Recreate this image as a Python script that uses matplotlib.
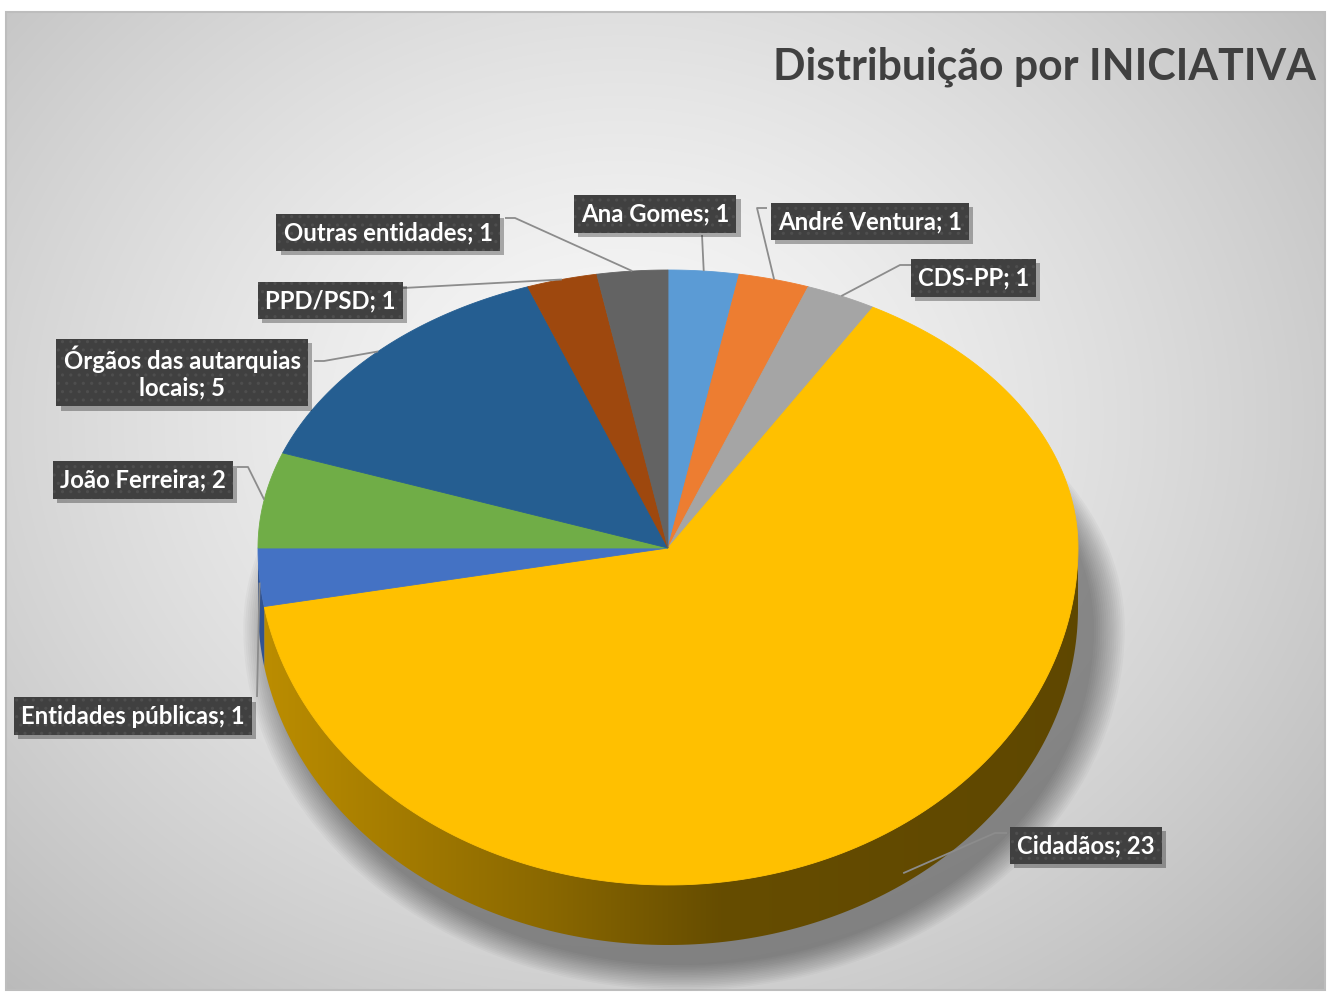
import numpy as np
import matplotlib.pyplot as plt
from matplotlib.patches import Polygon, Rectangle
import matplotlib.patheffects as pe

# === DATA ===
labels = ["Ana Gomes", "André Ventura", "CDS-PP", "Cidadãos", "Entidades públicas",
          "João Ferreira", "Órgãos das autarquias\nlocais", "PPD/PSD", "Outras entidades"]
values = [1, 1, 1, 23, 1, 2, 5, 1, 1]
colors = ["#5B9BD5", "#ED7D31", "#A5A5A5", "#FFC000", "#4472C4",
          "#70AD47", "#255E91", "#9E480E", "#636363"]
title = "Distribuição por INICIATIVA"

# === LAYOUT (pixel coordinates, y pointing down) ===
W, H = 1331, 994
CX, CY = 668, 548          # pie apex
A, BT, BB = 410, 278, 337  # horizontal radius, back / front vertical radius
DEPTH = 60
label_pos = [(655, 214), (870, 221.5), (973.5, 278), (1086, 845.5), (133, 716),
             (143, 480), (182, 372.5), (330.5, 300.5), (388, 232.5)]
leader_start = [(702, 235), (767, 208), (912, 265), (1007, 833), (257, 697),
                (237, 467), (314, 361), (403, 288), (505, 218)]
elbow = [0, -10, -12, -12, 0, 11, 10, 0, 10]

plt.rcParams["font.family"] = ["Lato", "DejaVu Sans"]
plt.rcParams["hatch.linewidth"] = 1.1

fig = plt.figure(figsize=(W / 100, H / 100), dpi=100)
ax = fig.add_axes([0, 0, 1, 1])
ax.set_axis_off()


def pt(theta):
    th = np.radians(theta)
    s = np.sin(th)
    b = np.where(s > 0, BT, BB)
    return CX + A * np.cos(th), CY - b * s


# background gradient inside frame
yy, xx = np.mgrid[12:990, 6:1325]
d = np.hypot((xx - 620) / 900, (yy - 420) / 760)
g = np.clip(0.975 - 0.24 * d ** 1.4, 0, 1)
ax.imshow(np.dstack([g, g, g]), extent=(6, 1325, 990, 12), origin="upper",
          aspect="auto", zorder=0)
ax.add_patch(Rectangle((6, 12), 1319, 978, fc="none", ec="#BDBDBD", lw=1.5, zorder=1))

total = sum(values)
bounds = 90 - 360 * np.concatenate([[0], np.cumsum(values)]) / total

# soft shadow under the pie
t = np.linspace(0, 360, 300)
for k in range(16):
    sx, sy = pt(t)
    sc = 1.0 + 0.005 * k
    px = CX + 16 + (sx - CX) * sc
    py = CY + DEPTH + 20 + (sy - CY) * sc
    ax.fill(px, py, color="black", alpha=0.028, lw=0, zorder=1.5)

# side walls (front half only)
for i, v in enumerate(values):
    t0, t1 = bounds[i], bounds[i + 1]
    lo, hi = max(t1, -180), min(t0, 0)
    if hi <= lo:
        continue
    ang = np.linspace(lo, hi, 200)
    x, y = pt(ang)
    px = np.concatenate([x, x[::-1]])
    py = np.concatenate([y, (y + DEPTH)[::-1]])
    poly = Polygon(np.column_stack([px, py]), closed=True, fc="none", lw=0, zorder=2)
    ax.add_patch(poly)
    base = np.array(plt.matplotlib.colors.to_rgb(colors[i]))
    gx = np.linspace(px.min(), px.max(), 300)
    f = np.interp(gx, [255, 550, 720, 1100], [0.74, 0.54, 0.40, 0.37])
    img = (base[None, :] * f[:, None])[None, :, :]
    im = ax.imshow(img, extent=(px.min(), px.max(), py.max(), py.min()),
                   origin="upper", aspect="auto", zorder=2)
    im.set_clip_path(poly)

# top face
for i, v in enumerate(values):
    ang = np.linspace(bounds[i], bounds[i + 1], 200)
    x, y = pt(ang)
    ax.fill(np.concatenate([[CX], x]), np.concatenate([[CY], y]),
            color=colors[i], ec=colors[i], lw=0.6, zorder=3)

# leader lines and labels
for i, v in enumerate(values):
    mid = (bounds[i] + bounds[i + 1]) / 2
    mx, my = pt(mid)
    my = my + DEPTH * max(0.0, -np.sin(np.radians(mid)))
    sx, sy = leader_start[i]
    xs, ys = [sx], [sy]
    if elbow[i]:
        xs.append(sx + elbow[i])
        ys.append(sy)
    xs.append(mx)
    ys.append(my)
    ax.plot(xs, ys, color="#8C8C8C", lw=1.3, zorder=4, solid_capstyle="butt")

    lx, ly = label_pos[i]
    s = f"{labels[i]}; {v}"
    kw = dict(ha="center", va="center", fontsize=17.2, fontweight="bold",
              linespacing=1.15)
    # plain box only for the drop shadow
    sh = ax.text(lx, ly, s, color="none", zorder=5, **kw,
                 bbox=dict(boxstyle="square,pad=0.3", fc="#404040", lw=0))
    sh.get_bbox_patch().set_path_effects(
        [pe.SimplePatchShadow(offset=(3, -3), shadow_rgbFace="black", alpha=0.3),
         pe.Normal()])
    # textured box with the label
    ax.text(lx, ly, s, color="white", zorder=6, **kw,
            bbox=dict(boxstyle="square,pad=0.3", fc="#404040", ec="#4E4E4E",
                      lw=0, hatch=".."))

ax.text(1316, 67, title, ha="right", va="center", fontsize=30.8,
        fontweight="bold", color="#404040", zorder=6)

ax.set_xlim(0, W)
ax.set_ylim(H, 0)
plt.savefig("out.png", dpi=100, facecolor="white")
